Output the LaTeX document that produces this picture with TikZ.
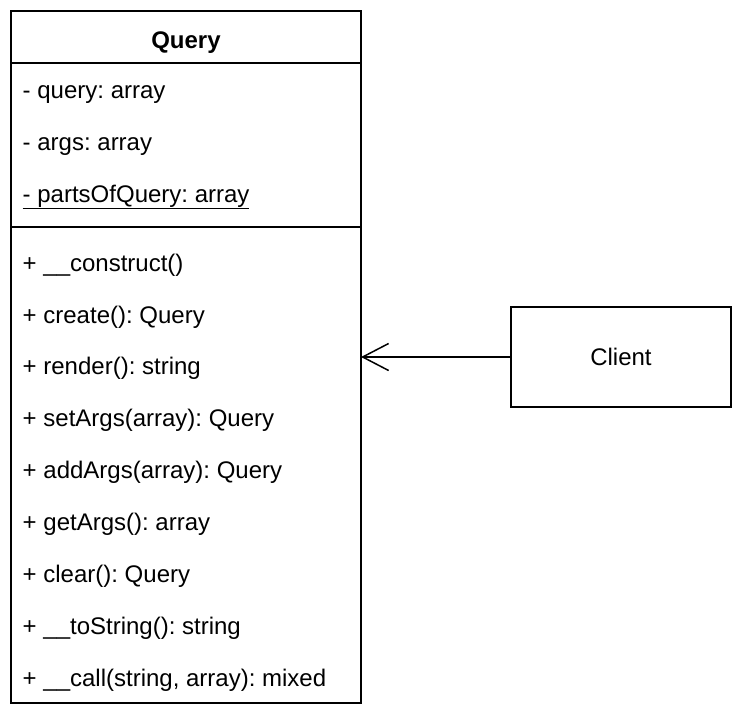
\documentclass[tikz,border=0pt]{standalone}
\usepackage{fontspec}
\setmainfont{Liberation Sans}
\usetikzlibrary{arrows.meta}
\frenchspacing
\begin{document}
\begin{tikzpicture}[x=1pt,y=-1pt,line width=1.5pt,
	umlbox/.style={draw,rectangle,inner sep=0pt,outer sep=0pt},
	member/.style={anchor=base west,inner sep=0pt},
	assoc/.style={-{Straight Barb[length=26pt,width=27pt,line width=1.5pt]}}]
	\fontsize{24}{28}\selectfont
	\useasboundingbox (0,0) rectangle (742,720);
	\node[umlbox,minimum width=350,minimum height=692] (query) at (186,357) {};
	\draw	(11,63) -- (361,63)
		(11,227) -- (361,227);
	\node[inner sep=0pt,anchor=base] (title) at (186,48) {\bfseries Query};
	% attributes
	\node[member] (aquery) at (22,98) {- query: array};
	\node[member] (aargs) at (22,150) {- args: array};
	\node[member] (aparts) at (22,202) {\underline{- partsOfQuery: array}};
	% operations
	\node[member] (mconstruct) at (22,271) {+ \_\_construct()};
	\node[member] (mcreate) at (22,323) {+ create(): Query};
	\node[member] (mrender) at (22,374) {+ render(): string};
	\node[member] (msetargs) at (22,426) {+ setArgs(array): Query};
	\node[member] (maddargs) at (22,478) {+ addArgs(array): Query};
	\node[member] (mgetargs) at (22,530) {+ getArgs(): array};
	\node[member] (mclear) at (22,582) {+ clear(): Query};
	\node[member] (mtostring) at (22,634) {+ \_\_toString(): string};
	\node[member] (mcall) at (22,686) {+ \_\_call(string, array): mixed};
	% client
	\node[umlbox,minimum width=220,minimum height=100] (client) at (621,357) {Client};
	\draw[assoc] (client.west) -- (query.east);
\end{tikzpicture}
\end{document}
